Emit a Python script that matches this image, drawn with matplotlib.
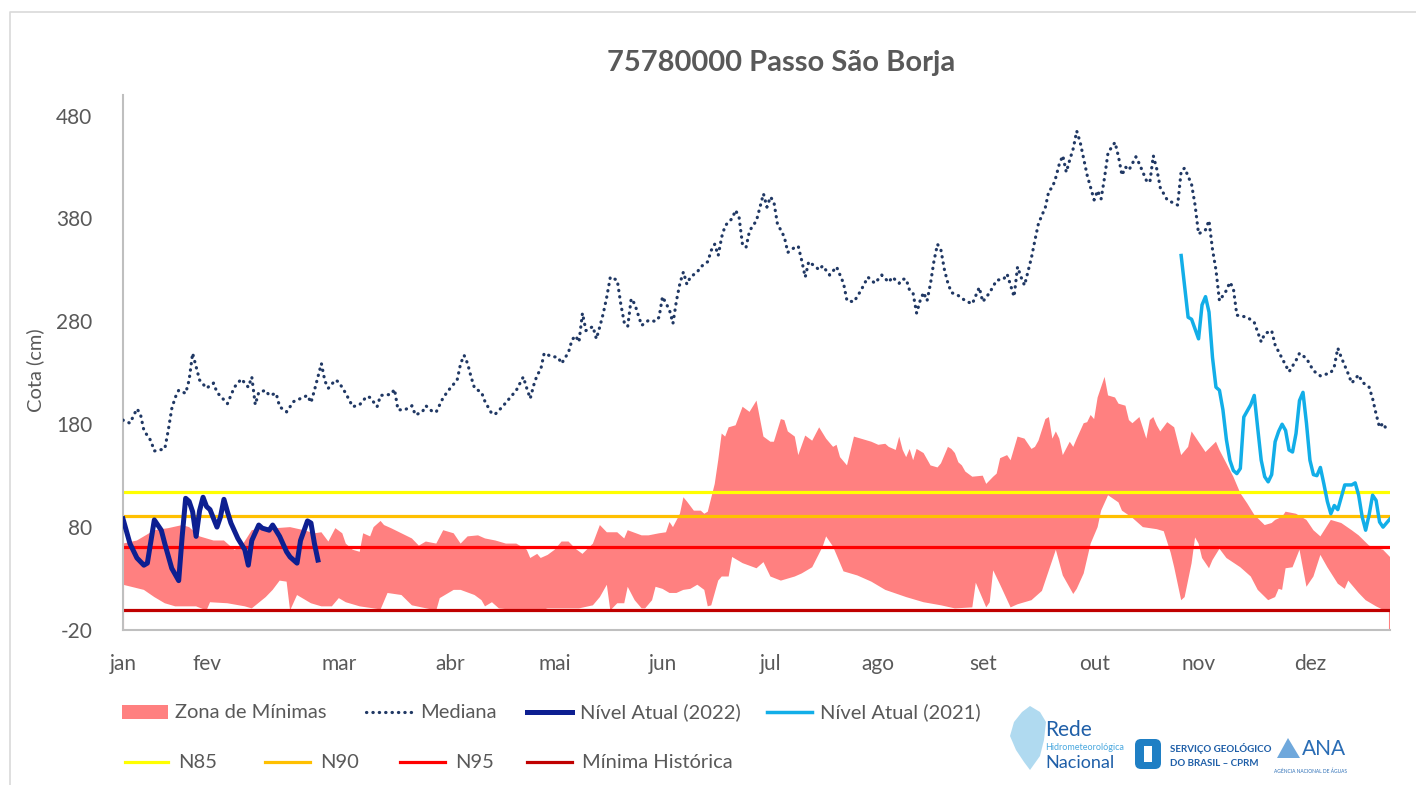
import numpy as np
import matplotlib
matplotlib.use('Agg')
import matplotlib.pyplot as plt
from matplotlib.patches import Rectangle, Polygon, FancyBboxPatch

plt.rcParams['font.family'] = ['Lato', 'DejaVu Sans']
plt.rcParams['axes.unicode_minus'] = False

# ---- data (day of year, cota in cm) ----
median_day = [1, 3, 5, 6, 7, 9, 10, 13, 14, 15, 16, 17, 19, 20, 21, 22, 23, 25, 27, 28, 31, 33, 35, 37, 38,
              39, 40, 42, 43, 45, 46, 48, 50, 52, 54, 55, 56, 57, 58, 59, 60, 62, 63, 65, 67, 69, 71, 72, 74,
              75, 78, 79, 80, 82, 84, 85, 87, 88, 90, 91, 93, 95, 97, 98, 99, 100, 101, 102, 104, 105, 107,
              108, 110, 112, 114, 116, 117, 118, 119, 120, 121, 122, 124, 126, 127, 129, 130, 131, 132, 133,
              134, 136, 137, 138, 139, 140, 141, 143, 144, 145, 146, 147, 148, 150, 152, 154, 155, 156, 158,
              159, 160, 161, 162, 163, 164, 166, 167, 169, 170, 171, 172, 173, 174, 176, 177, 178, 179, 180,
              181, 183, 184, 185, 186, 187, 188, 189, 191, 192, 194, 195, 196, 197, 198, 200, 201, 202, 204,
              206, 207, 208, 209, 211, 213, 215, 217, 219, 221, 222, 224, 225, 226, 227, 228, 229, 230, 231,
              232, 233, 234, 235, 236, 237, 238, 239, 241, 243, 245, 247, 248, 250, 252, 254, 255, 256, 257,
              258, 259, 260, 262, 263, 264, 266, 267, 268, 269, 270, 271, 272, 273, 274, 275, 276, 277, 278,
              279, 280, 281, 282, 283, 284, 286, 287, 288, 289, 290, 292, 293, 295, 296, 297, 298, 299, 301,
              304, 305, 306, 308, 309, 310, 312, 313, 314, 315, 316, 318, 319, 320, 321, 324, 326, 328, 329,
              331, 332, 334, 336, 338, 339, 341, 343, 345, 348, 349, 350, 351, 353, 354, 356, 357, 359, 360,
              361, 362, 363, 364]
median_val = [184, 181, 195, 190, 174, 164, 154, 156, 174, 195, 206, 213, 210, 223, 249, 236, 223, 215, 220,
              211, 200, 216, 224, 216, 226, 199, 211, 213, 208, 210, 197, 192, 202, 205, 208, 201, 213, 226,
              239, 222, 215, 223, 221, 210, 197, 199, 207, 206, 197, 208, 209, 214, 194, 194, 198, 189, 192,
              198, 192, 192, 206, 215, 223, 239, 247, 239, 226, 215, 211, 202, 190, 190, 197, 205, 213, 226,
              215, 205, 218, 228, 233, 249, 246, 245, 239, 250, 262, 266, 260, 288, 271, 275, 263, 275, 288,
              304, 323, 320, 297, 279, 275, 302, 297, 276, 281, 280, 284, 304, 291, 278, 300, 317, 328, 316,
              323, 328, 333, 338, 349, 355, 344, 362, 373, 380, 388, 381, 354, 352, 368, 378, 391, 404, 391,
              401, 396, 375, 362, 347, 352, 353, 339, 323, 338, 333, 330, 334, 325, 333, 325, 317, 300, 299,
              310, 323, 317, 325, 318, 323, 317, 321, 321, 310, 307, 288, 300, 308, 300, 317, 339, 355, 349,
              330, 317, 308, 305, 300, 297, 313, 299, 308, 320, 321, 326, 315, 304, 333, 323, 315, 342, 359,
              375, 391, 407, 410, 420, 433, 441, 425, 437, 448, 465, 454, 438, 422, 410, 398, 407, 399, 420,
              444, 454, 440, 422, 430, 427, 440, 433, 417, 415, 441, 428, 410, 398, 393, 426, 429, 413, 393,
              365, 369, 378, 350, 330, 300, 310, 318, 312, 286, 284, 279, 260, 268, 271, 257, 244, 231, 242,
              249, 244, 232, 227, 230, 236, 254, 245, 229, 220, 228, 221, 216, 205, 190, 177, 181, 175]

nivel_2022_day = [1, 3, 5, 7, 8, 10, 12, 13, 15, 17, 18, 19, 20, 21, 22, 23, 24, 25, 26, 28, 29, 30, 31,
                  32, 34, 36, 37, 38, 40, 41, 43, 44, 46, 48, 49, 51, 52, 54, 55, 56, 57]
nivel_2022_val = [88, 64, 50, 43, 45, 87, 77, 64, 40, 28, 71, 108, 105, 95, 71, 96, 109, 100, 97, 80, 90,
                  107, 95, 84, 69, 58, 43, 67, 82, 79, 77, 82, 71, 56, 51, 45, 67, 86, 84, 64, 48]

nivel_2021_day = [305, 307, 308, 310, 311, 312, 313, 314, 315, 316, 317, 318, 319, 320, 321, 322, 323, 325,
                  326, 327, 328, 329, 330, 331, 332, 333, 334, 335, 336, 337, 338, 339, 340, 341, 342, 343,
                  344, 345, 346, 347, 348, 349, 350, 352, 354, 355, 356, 357, 358, 359, 360, 361, 362, 363, 365]
nivel_2021_val = [344, 284, 282, 263, 296, 304, 289, 245, 216, 213, 194, 165, 145, 135, 132, 137, 187, 199,
                  208, 176, 145, 129, 124, 131, 163, 173, 180, 174, 155, 153, 171, 203, 211, 181, 145, 131,
                  130, 138, 122, 105, 93, 101, 97, 121, 121, 123, 111, 90, 77, 92, 111, 106, 85, 80, 88]

zona_sup_day = [1, 5, 10, 14, 18, 20, 23, 27, 30, 31, 33, 35, 38, 42, 45, 49, 53, 56, 58, 60, 62, 64, 65, 67,
                69, 70, 72, 73, 75, 76, 78, 81, 84, 86, 88, 91, 93, 96, 98, 100, 103, 105, 108, 111, 114, 117,
                118, 120, 121, 123, 125, 127, 129, 131, 133, 136, 138, 140, 143, 145, 146, 150, 152, 155, 157,
                158, 159, 161, 162, 163, 165, 167, 168, 169, 171, 172, 173, 174, 175, 177, 179, 181, 183, 185,
                187, 188, 190, 191, 192, 194, 195, 197, 199, 201, 203, 205, 206, 207, 209, 211, 213, 216, 218,
                220, 221, 223, 224, 225, 226, 227, 228, 229, 231, 233, 235, 236, 238, 239, 240, 241, 242, 243,
                245, 248, 249, 251, 252, 253, 255, 256, 258, 260, 262, 263, 264, 266, 267, 268, 269, 270, 271,
                273, 274, 275, 277, 278, 279, 280, 281, 283, 284, 286, 287, 289, 290, 291, 293, 295, 296, 297,
                298, 299, 301, 303, 305, 307, 308, 311, 312, 315, 316, 318, 320, 322, 324, 326, 329, 331, 332,
                334, 335, 338, 341, 343, 345, 348, 351, 354, 356, 359, 362, 363, 365]
zona_sup_val = [64, 67, 77, 79, 82, 80, 71, 67, 67, 64, 58, 61, 77, 80, 79, 80, 77, 74, 75, 66, 79, 74, 64, 58,
                56, 74, 71, 80, 86, 82, 79, 74, 69, 62, 66, 64, 77, 74, 64, 71, 72, 69, 67, 64, 64, 58, 50, 54,
                50, 53, 58, 66, 66, 59, 54, 64, 82, 75, 75, 69, 77, 72, 72, 74, 75, 85, 80, 93, 109, 105, 96,
                96, 93, 95, 122, 145, 171, 168, 177, 179, 197, 192, 203, 168, 163, 163, 185, 184, 173, 168,
                150, 169, 164, 177, 166, 158, 160, 148, 140, 168, 166, 163, 160, 161, 158, 155, 168, 155, 148,
                156, 145, 156, 152, 140, 138, 142, 158, 156, 152, 143, 140, 134, 129, 130, 122, 129, 132, 147,
                150, 145, 168, 166, 156, 158, 164, 185, 187, 166, 173, 166, 150, 163, 158, 166, 181, 182, 189,
                185, 206, 226, 208, 206, 200, 198, 184, 181, 187, 166, 184, 187, 179, 173, 182, 177, 150, 158,
                173, 158, 153, 163, 155, 142, 129, 113, 103, 92, 82, 84, 87, 90, 95, 93, 87, 77, 71, 87, 84, 77,
                72, 62, 59, 58, 51]

zona_inf_day = [1, 7, 10, 13, 16, 22, 25, 26, 31, 36, 38, 42, 44, 46, 48, 49, 51, 55, 58, 61, 63, 65, 69, 75,
                77, 81, 84, 91, 92, 96, 98, 102, 104, 105, 107, 109, 115, 121, 123, 132, 136, 138, 140, 141, 143,
                145, 146, 148, 150, 151, 153, 154, 156, 158, 160, 162, 164, 166, 168, 169, 170, 172, 173, 175,
                176, 179, 183, 185, 187, 190, 194, 196, 199, 202, 203, 205, 208, 212, 216, 220, 226, 231, 236,
                240, 245, 246, 249, 250, 251, 253, 256, 258, 262, 265, 267, 269, 271, 274, 275, 277, 279, 281,
                282, 284, 287, 288, 291, 294, 298, 300, 302, 303, 305, 306, 308, 309, 310, 311, 313, 314, 316,
                318, 322, 325, 327, 330, 332, 333, 334, 335, 337, 339, 341, 343, 345, 347, 350, 352, 353, 356,
                358, 361, 364, 365]
zona_inf_val = [24, 19, 12, 6, 3, 3, -1, 7, 6, 3, 1, 12, 19, 28, 27, -1, 14, 6, 3, 3, 11, 7, 3, 0, 16, 14, 4,
                -1, 11, 19, 19, 14, 9, 3, 7, 1, -1, -1, 1, 1, 4, 12, 24, -1, 6, 6, 22, 9, 1, 1, 9, 22, 20, 16,
                16, 19, 20, 24, 19, 3, 4, 28, 32, 32, 51, 45, 40, 46, 32, 28, 32, 35, 41, 61, 71, 61, 37, 33, 27,
                19, 12, 7, 4, 1, 2, 26, 2, 7, 38, 24, 2, 5, 9, 18, 38, 58, 33, 15, 20, 35, 64, 80, 96, 111, 104,
                96, 89, 80, 78, 76, 55, 41, 9, 12, 45, 70, 64, 50, 40, 48, 59, 50, 41, 32, 19, 9, 12, 20, 19, 40,
                41, 58, 22, 32, 53, 41, 25, 20, 28, 16, 9, 3, -2, -2]

n85 = 114
n90 = 91
n95 = 61
minima_historica = -1

month_labels = ['jan', 'fev', 'mar', 'abr', 'mai', 'jun', 'jul', 'ago', 'set', 'out', 'nov', 'dez']
month_label_days = [1, 25, 63, 95, 125, 156, 187, 218, 248, 280, 310, 342]
y_ticks = [-20, 80, 180, 280, 380, 480]

# ---- colours ----
c_zona = '#ff8080'
c_mediana = '#203864'
c_2022 = '#0d1f91'
c_2021 = '#12aee8'
c_n85 = '#ffff00'
c_n90 = '#ffc000'
c_n95 = '#ff0000'
c_min = '#c00000'
c_text = '#595959'

W, H = 1416, 785
fig = plt.figure(figsize=(W / 100, H / 100), dpi=100)
ax = fig.add_axes([123 / W, 1 - 630 / H, (1390 - 123) / W, (630 - 95) / H])

# zona de minimas as polygon between the two bounds
zx = np.r_[zona_sup_day, zona_inf_day[::-1]]
zy = np.r_[zona_sup_val, zona_inf_val[::-1]]
ax.fill(zx, zy, color=c_zona, lw=0, zorder=1)
ax.vlines([zona_inf_day[0], zona_inf_day[-1]], -20, [zona_inf_val[0], zona_inf_val[-1]],
          color=c_zona, lw=1.5, zorder=1)

for val, col in [(n85, c_n85), (n90, c_n90), (n95, c_n95), (minima_historica, c_min)]:
    ax.axhline(val, color=col, lw=2.3, zorder=2)

ax.plot(median_day, median_val, color=c_mediana, lw=2.3, linestyle=(0, (0.1, 1.9)),
        dash_capstyle='round', zorder=3)
ax.plot(nivel_2022_day, nivel_2022_val, color=c_2022, lw=3.6, zorder=4, solid_joinstyle='round')
ax.plot(nivel_2021_day, nivel_2021_val, color=c_2021, lw=2.5, zorder=4, solid_joinstyle='round')

ax.set_xlim(1, 365)
ax.set_ylim(-20, 500)
ax.set_yticks(y_ticks)
ax.set_xticks(month_label_days, month_labels)
ax.tick_params(axis='y', length=0, pad=22, labelsize=15, labelcolor=c_text)
ax.tick_params(axis='x', length=0, pad=17, labelsize=15, labelcolor=c_text)
for s in ['top', 'right']:
    ax.spines[s].set_visible(False)
for s in ['left', 'bottom']:
    ax.spines[s].set_color('#bfbfbf')
    ax.spines[s].set_linewidth(1.5)

fig.text(781 / W, 1 - 63 / H, '75780000 Passo São Borja', fontsize=21, weight='bold',
         color=c_text, ha='center', va='center')
fig.text(35 / W, 1 - 370 / H, 'Cota (cm)', rotation=90, fontsize=14.5, color=c_text,
         ha='center', va='center')

# ---- overlay in pixel coords for legend, logos and chart border ----
ov = fig.add_axes([0, 0, 1, 1], zorder=10)
ov.set_xlim(0, W)
ov.set_ylim(H, 0)
ov.axis('off')
ov.patch.set_alpha(0)

ov.plot([10, 10, W], [H, 12, 12], color='#d9d9d9', lw=1.2)

r1, r2 = 712, 762
ov.add_patch(Rectangle((122, r1 - 7), 46, 14, color=c_zona, lw=0))
ov.plot([366, 412], [r1, r1], color=c_mediana, lw=2.3, linestyle=(0, (0.1, 1.9)), dash_capstyle='round')
ov.plot([527, 572], [r1, r1], color=c_2022, lw=3.6)
ov.plot([767, 812], [r1, r1], color=c_2021, lw=2.5)
ov.plot([125, 168], [r2, r2], color=c_n85, lw=2.3)
ov.plot([265, 310], [r2, r2], color=c_n90, lw=2.3)
ov.plot([400, 445], [r2, r2], color=c_n95, lw=2.3)
ov.plot([527, 572], [r2, r2], color=c_min, lw=2.3)
legend_items = [(175, r1, 'Zona de Mínimas'), (420, r1, 'Mediana'), (580, r1, 'Nível Atual (2022)'),
                (820, r1, 'Nível Atual (2021)'), (178, r2, 'N85'), (320, r2, 'N90'), (455, r2, 'N95'),
                (582, r2, 'Mínima Histórica')]
for x, y, t in legend_items:
    ov.text(x, y, t, fontsize=14.5, color=c_text, ha='left', va='center')

# logos (approximate, drawn as shapes + text)
brasil = [(1030, 706), (1040, 712), (1046, 722), (1044, 740), (1040, 756), (1030, 770), (1024, 762),
          (1016, 750), (1010, 736), (1014, 722), (1022, 712)]
ov.add_patch(Polygon(brasil, closed=True, color='#8fcbea', alpha=0.7, lw=0))
ov.text(1045, 730, 'Rede', fontsize=15, color='#1f5fa8', ha='left', va='center')
ov.text(1045, 748, 'Hidrometeorológica', fontsize=6.5, color='#4aa8df', ha='left', va='center')
ov.text(1045, 763, 'Nacional', fontsize=13, color='#1f5fa8', ha='left', va='center')
ov.add_patch(FancyBboxPatch((1136, 740), 24, 28, boxstyle='round,pad=1,rounding_size=6',
                            color='#1f7fc4', lw=0))
ov.add_patch(Rectangle((1144, 746), 8, 16, color='white', lw=0))
ov.text(1170, 748, 'SERVIÇO GEOLÓGICO', fontsize=7, weight='bold', color='#1f5fa8', ha='left', va='center')
ov.text(1170, 763, 'DO BRASIL – CPRM', fontsize=7, weight='bold', color='#1f5fa8', ha='left', va='center')
ov.add_patch(Polygon([(1277, 758), (1288, 738), (1300, 758)], closed=True, color='#6fa8dc', lw=0))
ov.text(1302, 749, 'ANA', fontsize=15, color='#2a6db5', ha='left', va='center')
ov.text(1274, 771, 'AGÊNCIA NACIONAL DE ÁGUAS', fontsize=3.5, color='#2a6db5', ha='left', va='center')

fig.savefig('out.png', dpi=100)
